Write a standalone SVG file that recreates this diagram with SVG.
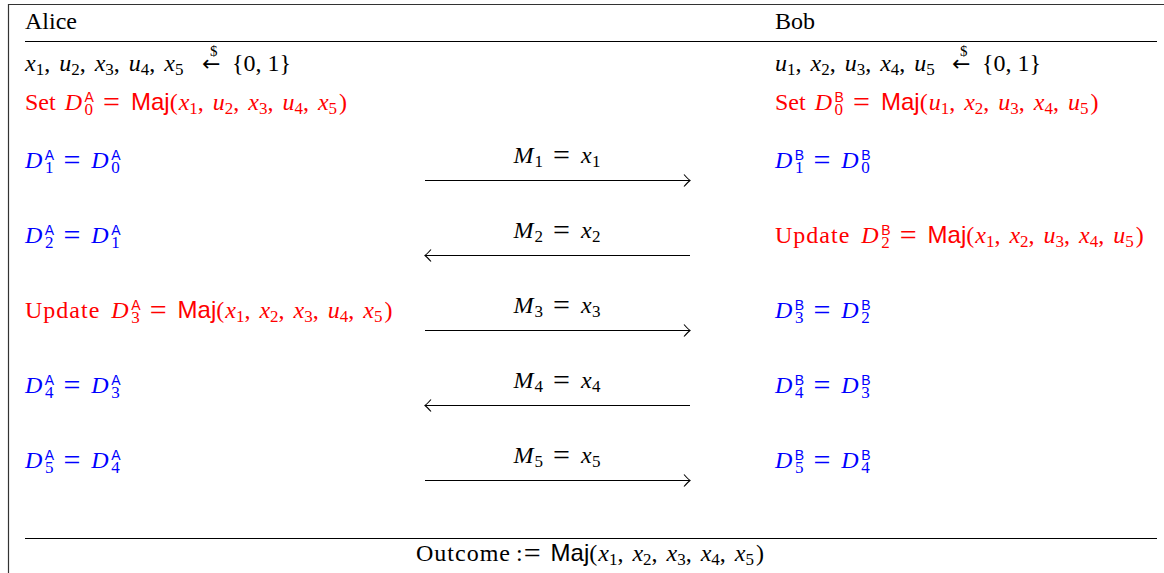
<svg xmlns="http://www.w3.org/2000/svg" width="1164" height="573" viewBox="0 0 1164 573">
<defs>
<style>
.t{font-family:"Liberation Serif",serif;font-size:24px;fill:#000}
.i{font-style:italic}
.s{font-family:"Liberation Sans",sans-serif}
.sp{font-family:"Liberation Sans",sans-serif;font-size:14px}
.sb{font-size:17px}
.eq{font-size:30px}
.w{letter-spacing:1px}
.red{fill:#ff0000}
.blue{fill:#0000ff}
.rule{stroke:#000;stroke-width:1.2}
.frame{stroke:#333;stroke-width:1.2;fill:none}
.msg{stroke:#000;stroke-width:1.1;marker-end:url(#ah)}
</style>
<marker id="ah" viewBox="-9 -7 11 14" markerWidth="11" markerHeight="14" refX="0" refY="0" orient="auto" markerUnits="userSpaceOnUse">
<path d="M-6,-6 Q-2,-1.5 0,0 Q-2,1.5 -6,6" fill="none" stroke="#000" stroke-width="1.1"/>
</marker>
</defs>
<path class="frame" d="M8.5,573 V4.5 H1164"/>
<g id="alice-header">
<text class="t" x="25" y="29">Alice</text>
</g>
<g id="bob-header">
<text class="t" x="775" y="29">Bob</text>
</g>
<line class="rule" x1="25" y1="41.5" x2="1157" y2="41.5"/>
<g id="alice-sample">
<text class="t" x="25" y="71"><tspan class="i">x</tspan><tspan class="sb" dy="4">1</tspan><tspan dy="-4">, </tspan><tspan class="i" dx="3">u</tspan><tspan class="sb" dy="4">2</tspan><tspan dy="-4">, </tspan><tspan class="i" dx="3">x</tspan><tspan class="sb" dy="4">3</tspan><tspan dy="-4">, </tspan><tspan class="i" dx="3">u</tspan><tspan class="sb" dy="4">4</tspan><tspan dy="-4">, </tspan><tspan class="i" dx="3">x</tspan><tspan class="sb" dy="4">5</tspan></text>
<text x="202" y="71" style="font-family:'DejaVu Sans',sans-serif;font-size:22px">←</text>
<text class="t" x="210" y="56" style="font-size:15px">$</text>
<text class="t" x="232" y="71">{0, 1}</text>
</g>
<g id="bob-sample">
<text class="t" x="775" y="71"><tspan class="i">u</tspan><tspan class="sb" dy="4">1</tspan><tspan dy="-4">, </tspan><tspan class="i" dx="3">x</tspan><tspan class="sb" dy="4">2</tspan><tspan dy="-4">, </tspan><tspan class="i" dx="3">u</tspan><tspan class="sb" dy="4">3</tspan><tspan dy="-4">, </tspan><tspan class="i" dx="3">x</tspan><tspan class="sb" dy="4">4</tspan><tspan dy="-4">, </tspan><tspan class="i" dx="3">u</tspan><tspan class="sb" dy="4">5</tspan></text>
<text x="952" y="71" style="font-family:'DejaVu Sans',sans-serif;font-size:22px">←</text>
<text class="t" x="960" y="56" style="font-size:15px">$</text>
<text class="t" x="982" y="71">{0, 1}</text>
</g>
<g id="alice-set">
<text class="t red" x="25" y="110">Set <tspan class="i" dx="3">D</tspan><tspan class="sp" dx="2.5" dy="-8">A</tspan><tspan class="sb" dx="-9.3" dy="13">0</tspan><tspan class="eq" dx="10" dy="-3">=</tspan><tspan class="s" dx="11" dy="-2">Maj</tspan>(<tspan class="i" dx="1">x</tspan><tspan class="sb" dy="4">1</tspan><tspan dy="-4">, </tspan><tspan class="i" dx="3">u</tspan><tspan class="sb" dy="4">2</tspan><tspan dy="-4">, </tspan><tspan class="i" dx="3">x</tspan><tspan class="sb" dy="4">3</tspan><tspan dy="-4">, </tspan><tspan class="i" dx="3">u</tspan><tspan class="sb" dy="4">4</tspan><tspan dy="-4">, </tspan><tspan class="i" dx="3">x</tspan><tspan class="sb" dy="4">5</tspan><tspan dx="2" dy="-4">)</tspan></text>
</g>
<g id="bob-set">
<text class="t red" x="775" y="110">Set <tspan class="i" dx="3">D</tspan><tspan class="sp" dx="2.5" dy="-8">B</tspan><tspan class="sb" dx="-9.3" dy="13">0</tspan><tspan class="eq" dx="10" dy="-3">=</tspan><tspan class="s" dx="11" dy="-2">Maj</tspan>(<tspan class="i" dx="1">u</tspan><tspan class="sb" dy="4">1</tspan><tspan dy="-4">, </tspan><tspan class="i" dx="3">x</tspan><tspan class="sb" dy="4">2</tspan><tspan dy="-4">, </tspan><tspan class="i" dx="3">u</tspan><tspan class="sb" dy="4">3</tspan><tspan dy="-4">, </tspan><tspan class="i" dx="3">x</tspan><tspan class="sb" dy="4">4</tspan><tspan dy="-4">, </tspan><tspan class="i" dx="3">u</tspan><tspan class="sb" dy="4">5</tspan><tspan dx="2" dy="-4">)</tspan></text>
</g>
<g id="alice-r1">
<text class="t blue" x="25" y="168"><tspan class="i">D</tspan><tspan class="sp" dx="2.5" dy="-8">A</tspan><tspan class="sb" dx="-9.3" dy="13">1</tspan><tspan class="eq" dx="10" dy="-3">=</tspan><tspan class="i" dx="11" dy="-2">D</tspan><tspan class="sp" dx="2.5" dy="-8">A</tspan><tspan class="sb" dx="-9.3" dy="13">0</tspan></text>
</g>
<g id="bob-r1">
<text class="t blue" x="775" y="168"><tspan class="i">D</tspan><tspan class="sp" dx="2.5" dy="-8">B</tspan><tspan class="sb" dx="-9.3" dy="13">1</tspan><tspan class="eq" dx="10" dy="-3">=</tspan><tspan class="i" dx="11" dy="-2">D</tspan><tspan class="sp" dx="2.5" dy="-8">B</tspan><tspan class="sb" dx="-9.3" dy="13">0</tspan></text>
</g>
<g id="alice-r2">
<text class="t blue" x="25" y="243"><tspan class="i">D</tspan><tspan class="sp" dx="2.5" dy="-8">A</tspan><tspan class="sb" dx="-9.3" dy="13">2</tspan><tspan class="eq" dx="10" dy="-3">=</tspan><tspan class="i" dx="11" dy="-2">D</tspan><tspan class="sp" dx="2.5" dy="-8">A</tspan><tspan class="sb" dx="-9.3" dy="13">1</tspan></text>
</g>
<g id="bob-r2">
<text class="t red" x="775" y="243"><tspan class="w">Update</tspan><tspan class="i" dx="11">D</tspan><tspan class="sp" dx="2.5" dy="-8">B</tspan><tspan class="sb" dx="-9.3" dy="13">2</tspan><tspan class="eq" dx="10" dy="-3">=</tspan><tspan class="s" dx="11" dy="-2">Maj</tspan>(<tspan class="i" dx="1">x</tspan><tspan class="sb" dy="4">1</tspan><tspan dy="-4">, </tspan><tspan class="i" dx="3">x</tspan><tspan class="sb" dy="4">2</tspan><tspan dy="-4">, </tspan><tspan class="i" dx="3">u</tspan><tspan class="sb" dy="4">3</tspan><tspan dy="-4">, </tspan><tspan class="i" dx="3">x</tspan><tspan class="sb" dy="4">4</tspan><tspan dy="-4">, </tspan><tspan class="i" dx="3">u</tspan><tspan class="sb" dy="4">5</tspan><tspan dx="2" dy="-4">)</tspan></text>
</g>
<g id="alice-r3">
<text class="t red" x="25" y="318"><tspan class="w">Update</tspan><tspan class="i" dx="11">D</tspan><tspan class="sp" dx="2.5" dy="-8">A</tspan><tspan class="sb" dx="-9.3" dy="13">3</tspan><tspan class="eq" dx="10" dy="-3">=</tspan><tspan class="s" dx="11" dy="-2">Maj</tspan>(<tspan class="i" dx="1">x</tspan><tspan class="sb" dy="4">1</tspan><tspan dy="-4">, </tspan><tspan class="i" dx="3">x</tspan><tspan class="sb" dy="4">2</tspan><tspan dy="-4">, </tspan><tspan class="i" dx="3">x</tspan><tspan class="sb" dy="4">3</tspan><tspan dy="-4">, </tspan><tspan class="i" dx="3">u</tspan><tspan class="sb" dy="4">4</tspan><tspan dy="-4">, </tspan><tspan class="i" dx="3">x</tspan><tspan class="sb" dy="4">5</tspan><tspan dx="2" dy="-4">)</tspan></text>
</g>
<g id="bob-r3">
<text class="t blue" x="775" y="318"><tspan class="i">D</tspan><tspan class="sp" dx="2.5" dy="-8">B</tspan><tspan class="sb" dx="-9.3" dy="13">3</tspan><tspan class="eq" dx="10" dy="-3">=</tspan><tspan class="i" dx="11" dy="-2">D</tspan><tspan class="sp" dx="2.5" dy="-8">B</tspan><tspan class="sb" dx="-9.3" dy="13">2</tspan></text>
</g>
<g id="alice-r4">
<text class="t blue" x="25" y="393"><tspan class="i">D</tspan><tspan class="sp" dx="2.5" dy="-8">A</tspan><tspan class="sb" dx="-9.3" dy="13">4</tspan><tspan class="eq" dx="10" dy="-3">=</tspan><tspan class="i" dx="11" dy="-2">D</tspan><tspan class="sp" dx="2.5" dy="-8">A</tspan><tspan class="sb" dx="-9.3" dy="13">3</tspan></text>
</g>
<g id="bob-r4">
<text class="t blue" x="775" y="393"><tspan class="i">D</tspan><tspan class="sp" dx="2.5" dy="-8">B</tspan><tspan class="sb" dx="-9.3" dy="13">4</tspan><tspan class="eq" dx="10" dy="-3">=</tspan><tspan class="i" dx="11" dy="-2">D</tspan><tspan class="sp" dx="2.5" dy="-8">B</tspan><tspan class="sb" dx="-9.3" dy="13">3</tspan></text>
</g>
<g id="alice-r5">
<text class="t blue" x="25" y="468"><tspan class="i">D</tspan><tspan class="sp" dx="2.5" dy="-8">A</tspan><tspan class="sb" dx="-9.3" dy="13">5</tspan><tspan class="eq" dx="10" dy="-3">=</tspan><tspan class="i" dx="11" dy="-2">D</tspan><tspan class="sp" dx="2.5" dy="-8">A</tspan><tspan class="sb" dx="-9.3" dy="13">4</tspan></text>
</g>
<g id="bob-r5">
<text class="t blue" x="775" y="468"><tspan class="i">D</tspan><tspan class="sp" dx="2.5" dy="-8">B</tspan><tspan class="sb" dx="-9.3" dy="13">5</tspan><tspan class="eq" dx="10" dy="-3">=</tspan><tspan class="i" dx="11" dy="-2">D</tspan><tspan class="sp" dx="2.5" dy="-8">B</tspan><tspan class="sb" dx="-9.3" dy="13">4</tspan></text>
</g>
<g id="connectors">
<line class="msg" x1="425" y1="180.5" x2="690" y2="180.5"/>
<line class="msg" x1="690" y1="255.5" x2="425" y2="255.5"/>
<line class="msg" x1="425" y1="330.5" x2="690" y2="330.5"/>
<line class="msg" x1="690" y1="405.5" x2="425" y2="405.5"/>
<line class="msg" x1="425" y1="480.5" x2="690" y2="480.5"/>
<text class="t" x="557" y="163" text-anchor="middle"><tspan class="i">M</tspan><tspan class="sb" dx="1" dy="4">1</tspan><tspan class="eq" dx="10" dy="-2">=</tspan><tspan class="i" dx="11" dy="-2">x</tspan><tspan class="sb" dx="0.5" dy="4">1</tspan></text>
<text class="t" x="557" y="238" text-anchor="middle"><tspan class="i">M</tspan><tspan class="sb" dx="1" dy="4">2</tspan><tspan class="eq" dx="10" dy="-2">=</tspan><tspan class="i" dx="11" dy="-2">x</tspan><tspan class="sb" dx="0.5" dy="4">2</tspan></text>
<text class="t" x="557" y="313" text-anchor="middle"><tspan class="i">M</tspan><tspan class="sb" dx="1" dy="4">3</tspan><tspan class="eq" dx="10" dy="-2">=</tspan><tspan class="i" dx="11" dy="-2">x</tspan><tspan class="sb" dx="0.5" dy="4">3</tspan></text>
<text class="t" x="557" y="388" text-anchor="middle"><tspan class="i">M</tspan><tspan class="sb" dx="1" dy="4">4</tspan><tspan class="eq" dx="10" dy="-2">=</tspan><tspan class="i" dx="11" dy="-2">x</tspan><tspan class="sb" dx="0.5" dy="4">4</tspan></text>
<text class="t" x="557" y="463" text-anchor="middle"><tspan class="i">M</tspan><tspan class="sb" dx="1" dy="4">5</tspan><tspan class="eq" dx="10" dy="-2">=</tspan><tspan class="i" dx="11" dy="-2">x</tspan><tspan class="sb" dx="0.5" dy="4">5</tspan></text>
</g>
<line class="rule" x1="25" y1="538.5" x2="1157" y2="538.5"/>
<g id="outcome">
<text class="t" x="590" y="561" text-anchor="middle"><tspan class="w">Outcome</tspan><tspan dx="5">:</tspan><tspan class="eq" dx="1" dy="2">=</tspan><tspan class="s" dx="10" dy="-2">Maj</tspan>(<tspan class="i" dx="1">x</tspan><tspan class="sb" dy="4">1</tspan><tspan dy="-4">, </tspan><tspan class="i" dx="3">x</tspan><tspan class="sb" dy="4">2</tspan><tspan dy="-4">, </tspan><tspan class="i" dx="3">x</tspan><tspan class="sb" dy="4">3</tspan><tspan dy="-4">, </tspan><tspan class="i" dx="3">x</tspan><tspan class="sb" dy="4">4</tspan><tspan dy="-4">, </tspan><tspan class="i" dx="3">x</tspan><tspan class="sb" dy="4">5</tspan><tspan dx="2" dy="-4">)</tspan></text>
</g>
</svg>
